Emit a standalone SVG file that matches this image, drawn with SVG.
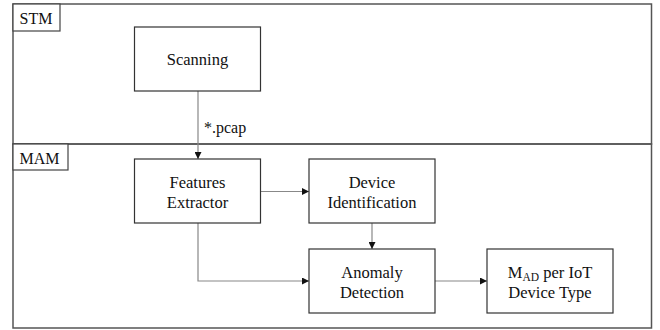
<svg xmlns="http://www.w3.org/2000/svg" width="660" height="330" viewBox="0 0 660 330">
<defs>
<marker id="ah" viewBox="0 0 10 10" refX="10" refY="5" markerWidth="7" markerHeight="7" markerUnits="userSpaceOnUse" orient="auto">
<path d="M0,0 L10,5 L0,10 z" fill="#111"/>
</marker>
</defs>
<rect width="660" height="330" fill="#fff"/>
<g id="stm">
<rect x="13" y="4" width="638.5" height="140" fill="none" stroke="#555" stroke-width="1.5"/>
<rect x="13" y="4" width="47" height="27" fill="#fff" stroke="#444" stroke-width="1.2"/>
<text x="19.5" y="23.5" font-family="'Liberation Serif', serif" font-size="16" fill="#111">STM</text>
</g>
<g id="mam">
<rect x="13" y="144" width="638.5" height="184" fill="none" stroke="#555" stroke-width="1.5"/>
<rect x="13" y="144" width="55" height="26" fill="#fff" stroke="#444" stroke-width="1.2"/>
<text x="19.5" y="163.5" font-family="'Liberation Serif', serif" font-size="16" fill="#111">MAM</text>
</g>
<g id="connectors" fill="none" stroke="#888" stroke-width="1.2">
<path d="M198,91 V159" marker-end="url(#ah)"/>
<path d="M260.5,191.5 H309" marker-end="url(#ah)"/>
<path d="M372,223 V249" marker-end="url(#ah)"/>
<path d="M198,223 V281 H309" marker-end="url(#ah)"/>
<path d="M435,281 H487" marker-end="url(#ah)"/>
<text x="204" y="133" font-family="'Liberation Serif', serif" font-size="16" fill="#111" stroke="none">*.pcap</text>
</g>
<g id="scanning">
<rect x="134.5" y="27" width="126" height="64" fill="#fff" stroke="#333" stroke-width="1.2"/>
<text x="197.5" y="65" font-family="'Liberation Serif', serif" font-size="16.5" fill="#111" text-anchor="middle">Scanning</text>
</g>
<g id="features-extractor" font-family="'Liberation Serif', serif" font-size="16.5" fill="#111" text-anchor="middle">
<rect x="134.5" y="159" width="126" height="64" fill="#fff" stroke="#333" stroke-width="1.2"/>
<text x="197.5" y="188">Features</text>
<text x="197.5" y="208">Extractor</text>
</g>
<g id="device-identification" font-family="'Liberation Serif', serif" font-size="16.5" fill="#111" text-anchor="middle">
<rect x="309" y="159" width="126" height="64" fill="#fff" stroke="#333" stroke-width="1.2"/>
<text x="372" y="188">Device</text>
<text x="372" y="208">Identification</text>
</g>
<g id="anomaly-detection" font-family="'Liberation Serif', serif" font-size="16.5" fill="#111" text-anchor="middle">
<rect x="309" y="249" width="126" height="64" fill="#fff" stroke="#333" stroke-width="1.2"/>
<text x="372" y="277.5">Anomaly</text>
<text x="372" y="297.5">Detection</text>
</g>
<g id="mad" font-family="'Liberation Serif', serif" font-size="16.5" fill="#111" text-anchor="middle">
<rect x="487" y="249" width="126" height="64" fill="#fff" stroke="#333" stroke-width="1.2"/>
<text x="550" y="277.5">M<tspan font-size="11.5" dy="3">AD</tspan><tspan dy="-3"> per IoT</tspan></text>
<text x="550" y="297.5">Device Type</text>
</g>
</svg>
